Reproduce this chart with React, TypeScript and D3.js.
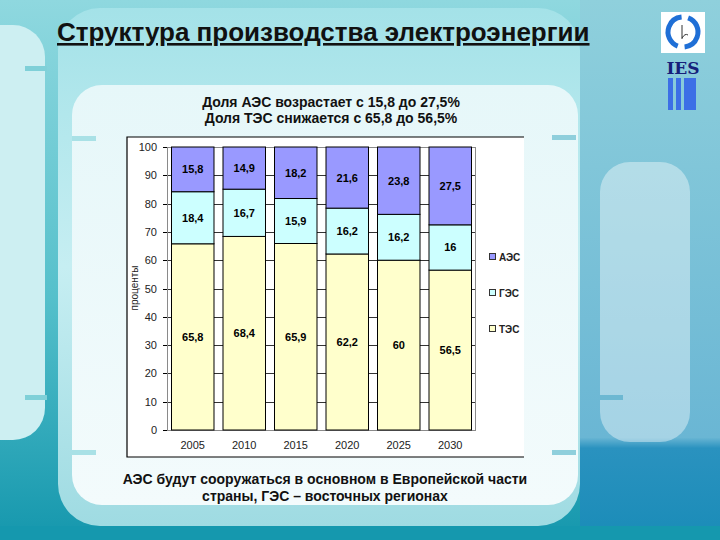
import React from "react";
import * as d3 from "d3";

const years = ["2005", "2010", "2015", "2020", "2025", "2030"];
const tes = [65.8, 68.4, 65.9, 62.2, 60, 56.5];
const ges = [18.4, 16.7, 15.9, 16.2, 16.2, 16];
const aes = [15.8, 14.9, 18.2, 21.6, 23.8, 27.5];
const seriesNames = ["ТЭС", "ГЭС", "АЭС"];
const seriesValues = [tes, ges, aes];
const seriesColors = ["#FFFFCC", "#CCFFFF", "#9999FF"];
const legendOrder = ["АЭС", "ГЭС", "ТЭС"];
const yTicks = [0, 10, 20, 30, 40, 50, 60, 70, 80, 90, 100];

const title = "Структура производства электроэнергии";
const subtitle1 = "Доля АЭС возрастает с 15,8 до 27,5%";
const subtitle2 = "Доля ТЭС снижается с 65,8 до 56,5%";
const footer1 = "АЭС будут сооружаться в основном в Европейской части";
const footer2 = "страны, ГЭС – восточных регионах";
const yAxisTitle = "проценты";

const fmt = (v: number) => String(v).replace(".", ",");

export default function App() {
  const font = "'Liberation Sans', Arial, sans-serif";
  const rows = years.map((y, i) => ({ year: y, "ТЭС": tes[i], "ГЭС": ges[i], "АЭС": aes[i] }));
  const stacked = d3.stack<any>().keys(seriesNames)(rows);

  const x = d3.scaleBand<string>().domain(years).range([167, 476]).paddingInner(0.175).paddingOuter(0.0875);
  const y = d3.scaleLinear().domain([0, 100]).range([430, 147]);

  const legendY: Record<string, number> = { "АЭС": 257, "ГЭС": 293, "ТЭС": 329 };

  return (
    <svg width={720} height={540} style={{ position: "absolute", left: 0, top: 0 }} fontFamily={font}>
      <defs>
        <linearGradient id="bg" x1="0" y1="0" x2="0" y2="1">
          <stop offset="0" stopColor="#8fd8df" />
          <stop offset="0.55" stopColor="#55c0cb" />
          <stop offset="1" stopColor="#1597ad" />
        </linearGradient>
        <linearGradient id="right" x1="0" y1="0" x2="0" y2="1">
          <stop offset="0" stopColor="#8fd0dc" />
          <stop offset="0.81" stopColor="#6ab6d4" />
          <stop offset="0.83" stopColor="#2a92bf" />
          <stop offset="1" stopColor="#1a8cb8" />
        </linearGradient>
        <linearGradient id="main" x1="0" y1="0" x2="0" y2="1">
          <stop offset="0" stopColor="#a4e2e8" />
          <stop offset="0.5" stopColor="#c6eef2" />
          <stop offset="1" stopColor="#9fdbe2" />
        </linearGradient>
        <linearGradient id="inner" x1="0" y1="0" x2="0" y2="1">
          <stop offset="0" stopColor="#e6f7f9" />
          <stop offset="1" stopColor="#f3fbfc" />
        </linearGradient>
      </defs>

      {/* background */}
      <rect x={0} y={0} width={720} height={540} fill="url(#bg)" />
      <rect x={580} y={0} width={140} height={540} fill="url(#right)" />
      <rect x={-40} y={25} width={85} height={415} rx={32} fill="#cdeff2" />
      <rect x={58} y={8} width={522} height={518} rx={42} fill="url(#main)" />
      <rect x={600} y={162} width={90} height={280} rx={30} fill="#ffffff" opacity={0.4} />
      <rect x={72} y={85} width={506} height={420} rx={30} fill="url(#inner)" />
      <rect x={0} y={526} width={720} height={14} fill="#1598ae" />
      {/* decorative tick bars */}
      <rect x={25} y={66} width={22} height={5} fill="#7fd0d8" />
      <rect x={72} y={136} width={24} height={5} fill="#a9e1e6" />
      <rect x={25} y={395} width={22} height={5} fill="#7fd0d8" />
      <rect x={72} y={450} width={24} height={5} fill="#a9e1e6" />
      <rect x={552} y={135} width={24} height={5} fill="#8fcfdc" />
      <rect x={600} y={395} width={23} height={5} fill="#6db8d2" />
      <rect x={552} y={450} width={24} height={5} fill="#8fcfdc" />

      {/* logo */}
      <rect x={661} y={12} width={44} height={41} fill="#ffffff" />
      <circle cx={683} cy={32} r={15} fill="none" stroke="#1f6fd6" strokeWidth={5} strokeDasharray="40 7" transform="rotate(-70 683 32)" />
      <path d="M682,25 L682,39 M682,38 q3,-5 6,-3" fill="none" stroke="#333" strokeWidth={1} />
      <text x={683} y={74} textAnchor="middle" fontFamily="'DejaVu Serif', serif" fontWeight="bold" fontSize={17} fill="#15207a">IES</text>
      <rect x={668} y={78} width={5} height={32} fill="#3c6fe6" />
      <rect x={676} y={78} width={5} height={32} fill="#3c6fe6" />
      <rect x={684} y={78} width={12} height={32} fill="#3c6fe6" />

      {/* title */}
      <text x={57} y={41} fontSize={26} fontWeight="bold" fill="#111" textDecoration="underline">{title}</text>

      {/* subtitles */}
      <text x={331} y={107} textAnchor="middle" fontSize={14} fontWeight="bold" fill="#111">{subtitle1}</text>
      <text x={331} y={123} textAnchor="middle" fontSize={14} fontWeight="bold" fill="#111">{subtitle2}</text>

      {/* chart area */}
      <rect x={127} y={137} width={397} height={320} fill="#ffffff" />
      <path d="M524,137 L127,137 L127,457 L524,457" fill="none" stroke="#000" strokeWidth={1.2} />

      {/* gridlines */}
      {yTicks.map(t => (
        <line key={"g" + t} x1={167} x2={476} y1={Math.round(y(t)) + 0.5} y2={Math.round(y(t)) + 0.5} stroke="#333" strokeWidth={1} />
      ))}
      {/* plot border */}
      <rect x={167.5} y={147.5} width={308} height={283} fill="none" stroke="#8a8a8a" strokeWidth={1} />

      {/* bars */}
      {stacked.map((s, si) => (
        <g key={s.key}>
          {s.map((d, i) => (
            <rect key={i} x={x(years[i])!} y={y(d[1])} width={x.bandwidth()} height={y(d[0]) - y(d[1])}
              fill={seriesColors[si]} stroke="#000" strokeWidth={1} />
          ))}
        </g>
      ))}
      {/* data labels */}
      {stacked.map((s, si) => (
        <g key={"l" + s.key}>
          {s.map((d, i) => (
            <text key={i} x={x(years[i])! + x.bandwidth() / 2} y={y((d[0] + d[1]) / 2) + 4}
              textAnchor="middle" fontSize={11} fontWeight="bold" fill="#000">{fmt(seriesValues[si][i])}</text>
          ))}
        </g>
      ))}

      {/* y axis */}
      {yTicks.map(t => (
        <g key={"t" + t}>
          <line x1={163} x2={167} y1={Math.round(y(t)) + 0.5} y2={Math.round(y(t)) + 0.5} stroke="#000" />
          <text x={157} y={y(t) + 4} textAnchor="end" fontSize={11} fill="#222">{t}</text>
        </g>
      ))}
      <text transform={`translate(138,${288}) rotate(-90)`} textAnchor="middle" fontSize={10} fill="#222">{yAxisTitle}</text>

      {/* x axis labels */}
      {years.map(yr => (
        <text key={yr} x={x(yr)! + x.bandwidth() / 2} y={449} textAnchor="middle" fontSize={11} fill="#222">{yr}</text>
      ))}

      {/* legend */}
      {legendOrder.map(name => {
        const idx = seriesNames.indexOf(name);
        return (
          <g key={name}>
            <rect x={489.5} y={legendY[name] - 3.5} width={6} height={6} fill={seriesColors[idx]} stroke="#333" strokeWidth={1} />
            <text x={499} y={legendY[name] + 3.5} fontSize={10} fontWeight="bold" fill="#222">{name}</text>
          </g>
        );
      })}

      {/* footer */}
      <text x={325} y={484} textAnchor="middle" fontSize={14} fontWeight="bold" fill="#111">{footer1}</text>
      <text x={325} y={501} textAnchor="middle" fontSize={14} fontWeight="bold" fill="#111">{footer2}</text>
    </svg>
  );
}
